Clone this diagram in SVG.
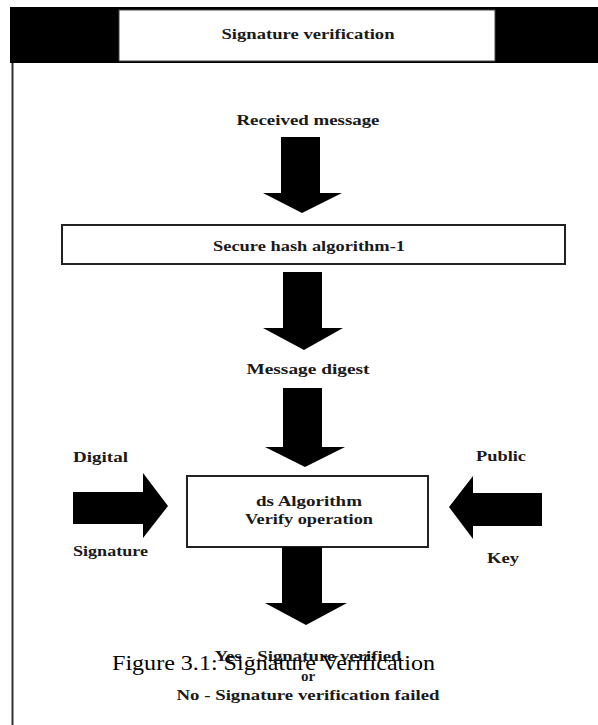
<svg xmlns="http://www.w3.org/2000/svg" width="598" height="725" viewBox="0 0 598 725">
<style>
.t{font-family:"Liberation Serif","Times New Roman",serif;font-weight:bold;font-size:15px;fill:#1a1a1a;text-anchor:middle}
.tl{font-family:"Liberation Serif","Times New Roman",serif;font-weight:bold;font-size:15px;fill:#1a1a1a}
.box{fill:#fff;stroke:#222;stroke-width:2}
.arr{fill:#000}
.cap{font-family:"Liberation Serif","Times New Roman",serif;font-size:21px;fill:#000}
</style>
<rect width="598" height="725" fill="#fff"/>
<g id="frame">
<rect x="10" y="7" width="588" height="56" fill="#000"/>
<line x1="12.5" y1="63" x2="12.5" y2="725" stroke="#333" stroke-width="2"/>
</g>
<g id="title">
<rect x="119" y="10" width="376" height="51" fill="#fff" stroke="#444" stroke-width="1"/>
<text class="t" x="308" y="39" textLength="173" lengthAdjust="spacingAndGlyphs">Signature verification</text>
</g>
<g id="received">
<text class="t" x="308" y="125" textLength="143" lengthAdjust="spacingAndGlyphs">Received message</text>
</g>
<g id="sha1">
<rect class="box" x="62" y="225" width="503" height="39"/>
<text class="t" x="309" y="251" textLength="192" lengthAdjust="spacingAndGlyphs">Secure hash algorithm-1</text>
</g>
<g id="digest">
<text class="t" x="308" y="374" textLength="123" lengthAdjust="spacingAndGlyphs">Message digest</text>
</g>
<g id="dsalg">
<rect class="box" x="187" y="476" width="241" height="71"/>
<text class="t" x="309" y="506" textLength="106" lengthAdjust="spacingAndGlyphs">ds Algorithm</text>
<text class="t" x="309" y="524" textLength="128" lengthAdjust="spacingAndGlyphs">Verify operation</text>
</g>
<g id="digital">
<text class="tl" x="73" y="462" textLength="55" lengthAdjust="spacingAndGlyphs">Digital</text>
<text class="tl" x="73" y="556" textLength="75" lengthAdjust="spacingAndGlyphs">Signature</text>
</g>
<g id="public">
<text class="tl" x="476" y="461" textLength="50" lengthAdjust="spacingAndGlyphs">Public</text>
<text class="tl" x="487" y="563" textLength="32" lengthAdjust="spacingAndGlyphs">Key</text>
</g>
<g id="result">
<text class="t" x="308" y="661" textLength="187" lengthAdjust="spacingAndGlyphs">Yes - Signature verified</text>
<text class="t" x="308" y="681">or</text>
<text class="t" x="308" y="700" textLength="263" lengthAdjust="spacingAndGlyphs">No - Signature verification failed</text>
</g>
<g id="connectors">
<polygon class="arr" points="281,137 320,137 320,193 342,193 302,213 263,193 281,193"/>
<polygon class="arr" points="283,272 322,272 322,328 343,328 304,350 263,328 283,328"/>
<polygon class="arr" points="283,388 322,388 322,447 345,447 305,467 265,447 283,447"/>
<polygon class="arr" points="73,492 143,492 143,473 168,506 143,538 143,524 73,524"/>
<polygon class="arr" points="542,493 473,493 473,476 449,507 473,539 473,526 542,526"/>
<polygon class="arr" points="282,547 322,547 322,603 347,603 306,625 265,603 282,603"/>
</g>
<g id="caption">
<text class="cap" x="112" y="670" textLength="323" lengthAdjust="spacingAndGlyphs">Figure 3.1: Signature Verification</text>
</g>
</svg>
